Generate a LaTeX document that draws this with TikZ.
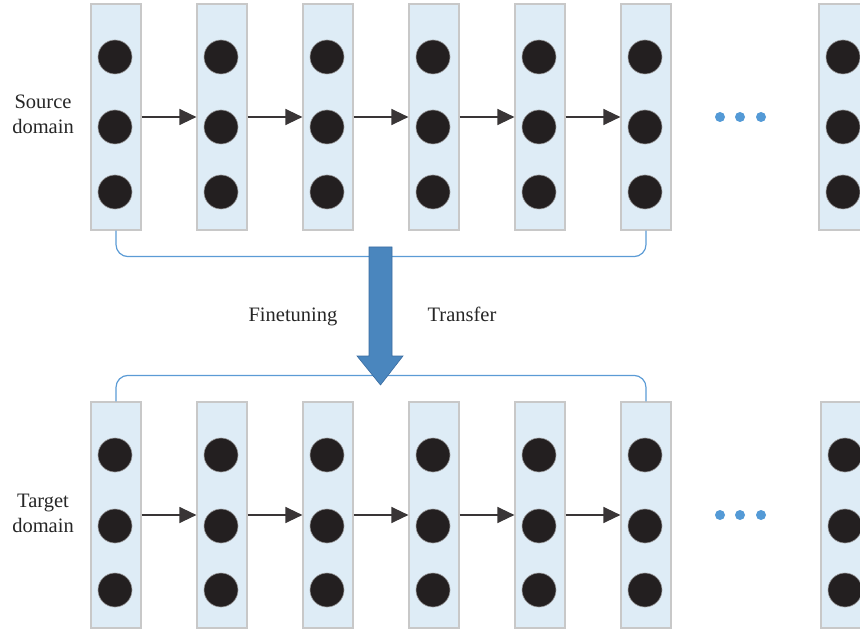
\documentclass[tikz,border=0pt]{standalone}
\usepackage{fontspec}
\setmainfont{Liberation Serif}
\usetikzlibrary{arrows.meta,calc}
\definecolor{colfill}{RGB}{222,236,246}
\definecolor{colline}{RGB}{200,200,200}
\definecolor{dotc}{RGB}{35,31,32}
\definecolor{bracketc}{RGB}{91,155,213}
\definecolor{bigarrow}{RGB}{74,134,190}
\definecolor{bigarrowline}{RGB}{58,108,160}
\definecolor{ellc}{RGB}{84,154,214}
\tikzset{
  layer/.style={draw=colline, line width=1.2pt, fill=colfill, minimum width=50pt, minimum height=226pt, inner sep=0pt},
  neuron/.style={circle, fill=dotc, draw=colline!70!dotc, line width=0.6pt, minimum size=34pt, inner sep=0pt},
  flow/.style={draw=dotc!90, line width=1.3pt, -{Triangle[length=17pt,width=16pt]}},
  bracket/.style={draw=bracketc, line width=1.2pt, rounded corners=12pt},
  ell/.style={circle, fill=ellc, minimum size=10pt, inner sep=0pt},
  lbl/.style={font=\fontsize{20.5}{25}\selectfont, align=center, text=black!85}
}
\begin{document}
\begin{tikzpicture}[x=1pt,y=-1pt]
\useasboundingbox (0,0) rectangle (860,631);
\clip (0,0) rectangle (860,631);
% layers
\foreach \i/\x in {1/116,2/222,3/328,4/434,5/540,6/646,7/844}{
  \node[layer] (t\i) at (\x,117) {};
  \node[neuron] (ta\i) at ($(t\i.center)+(-1,-60)$) {};
  \node[neuron] (tb\i) at ($(t\i.center)+(-1,10)$) {};
  \node[neuron] (tc\i) at ($(t\i.center)+(-1,75)$) {};
  \node[layer] (b\i) at (\x+\ifnum\i=7 2\else 0\fi,515) {};
  \node[neuron] (ba\i) at ($(b\i.center)+(-1,-60)$) {};
  \node[neuron] (bb\i) at ($(b\i.center)+(-1,11)$) {};
  \node[neuron] (bc\i) at ($(b\i.center)+(-1,75)$) {};
}
\foreach \i/\j in {1/2,2/3,3/4,4/5,5/6}{
  \draw[flow] (t\i.east) -- (t\j.west);
  \draw[flow] (b\i.east) -- (b\j.west);
}
% ellipses
\foreach \k/\x in {1/720,2/740,3/761}{
  \node[ell] (te\k) at (\x,117) {};
  \node[ell] (be\k) at (\x,515) {};
}
% brackets
\draw[bracket] (t1.south) -- ++(0,26) -| (t6.south);
\draw[bracket] (b1.north) -- ++(0,-26) -| (b6.north);
% big arrow
\draw[fill=bigarrow, draw=bigarrowline, line width=0.6pt]
  (369,247) -- (392,247) -- (392,356) -- (403,356) -- (380.5,385) -- (357,356) -- (369,356) -- cycle;
% labels
\node[lbl, anchor=base] (ft) at (293,321) {Finetuning};
\node[lbl, anchor=base] (tr) at (462,321) {Transfer};
\node[lbl, anchor=base] (src) at (43,109) {Source};
\node[lbl, anchor=base] (src2) at (43,134) {domain};
\node[lbl, anchor=base] (tgt) at (43,507) {Target};
\node[lbl, anchor=base] (tgt2) at (43,532) {domain};
\end{tikzpicture}
\end{document}
